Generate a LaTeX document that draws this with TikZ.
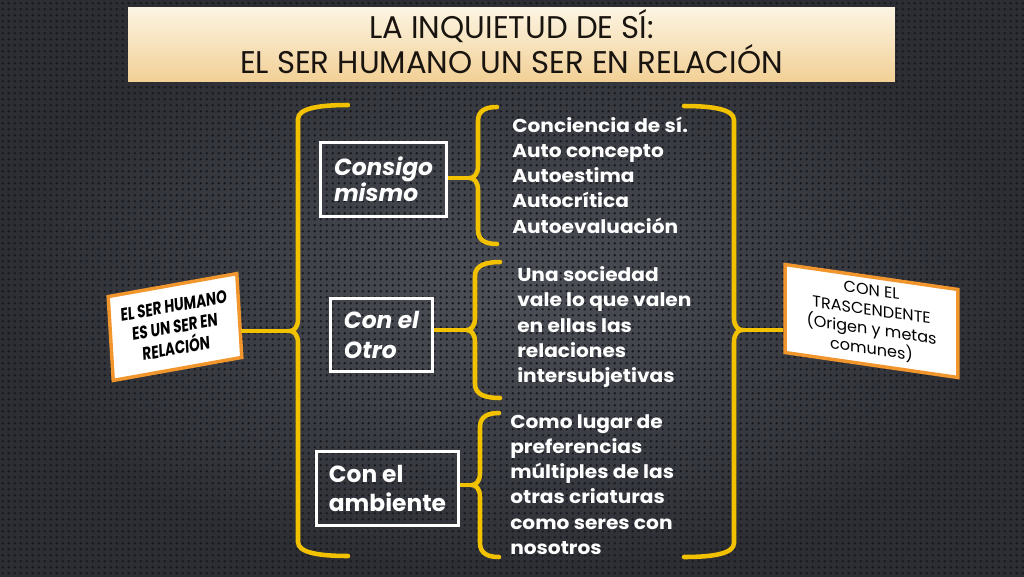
\documentclass[tikz,border=0pt]{standalone}
\usepackage{fontspec}
\setmainfont{Poppins}
\newfontfamily\titlef{Poppins}[FakeStretch=0.98]
\newfontfamily\condf{Poppins}[FakeStretch=0.76]
\newfontfamily\widef{Poppins}[FakeStretch=1.08]
\newfontfamily\boxf{Poppins}[FakeStretch=1.03]
\usetikzlibrary{patterns}
\definecolor{bgin}{RGB}{78,80,88}
\definecolor{bgout}{RGB}{44,46,52}
\definecolor{bgdot}{RGB}{24,26,31}
\definecolor{ttop}{RGB}{252,244,226}
\definecolor{tbot}{RGB}{242,208,150}
\definecolor{ttext}{RGB}{25,20,15}
\definecolor{ygold}{RGB}{242,194,0}
\definecolor{orng}{RGB}{240,150,45}
\pgfdeclarepatternformonly{bgdots}{\pgfpointorigin}{\pgfpoint{4.3pt}{4.3pt}}{\pgfpoint{4.3pt}{4.3pt}}{%
  \pgfpathcircle{\pgfpoint{2.15pt}{2.15pt}}{1.05pt}\pgfusepath{fill}}
\newcommand\ybr[6]{% #1 x of stem, #2 top y, #3 tip y, #4 bottom y, #5 arm end x, #6 tip x
  \draw[ybrace] (#5,#2) .. controls ({#1+0.45*(#5-#1)},#2) and (#1,{#2+3}) .. (#1,{#2+14})
    -- (#1,{#3-12}) .. controls (#1,{#3-3}) and ({#6+0.4*(#1-#6)},#3) .. (#6,#3)
    .. controls ({#6+0.4*(#1-#6)},#3) and (#1,{#3+3}) .. (#1,{#3+12})
    -- (#1,{#4-14}) .. controls (#1,{#4-3}) and ({#1+0.45*(#5-#1)},#4) .. (#5,#4);}
\tikzset{
  ybrace/.style={draw=ygold, line width=3.4pt, line cap=round},
  titlebox/.style={top color=ttop, bottom color=tbot, draw=none,
    minimum width=575pt, minimum height=55pt, inner sep=0pt},
  titletxt/.style={inner sep=0pt, align=center, text=ttext,
    font=\titlef\fontsize{23.5pt}{22pt}\selectfont},
  wbox/.style={draw=white, line width=2.3pt, align=left, inner sep=0pt, text=white},
  listtext/.style={align=left, anchor=west, inner sep=0pt, text=white,
    font=\widef\bfseries\fontsize{14pt}{18.9pt}\selectfont},
  obox/.style={draw=orng, line width=2.6pt, fill=white, align=center, inner sep=0pt, text=black}
}
\begin{document}
\begin{tikzpicture}[x=0.75pt, y=-0.75pt]
\useasboundingbox (0,0) rectangle (1024,576);
% background
\shade[inner color=bgin, outer color=bgout] (0,0) rectangle (1024,576);
\fill[pattern=bgdots, pattern color=bgdot] (0,0) rectangle (1024,576);
% title
\node[titlebox] (title) at (511.5,44.5) {};
\node[titletxt] (titletext) at (511.5,41.5) {LA INQUIETUD DE SÍ:\\EL SER HUMANO UN SER EN RELACIÓN};
% left box
\node[obox, minimum width=98pt, minimum height=63pt, cm={0.984,0.176,-0.06,0.998,(0,0)},
  font=\condf\bfseries\fontsize{13.5pt}{16pt}\selectfont] (lbox) at (175,327)
  {EL SER HUMANO\\ES UN SER EN\\RELACIÓN};
% right box
\node[obox, minimum width=131pt, minimum height=66pt, cm={0.99,-0.143,0,1,(0,0)},
  font=\boxf\fontsize{11.8pt}{14.6pt}\selectfont] (rbox) at (871.5,321)
  {CON EL\\TRASCENDENTE\\(Origen y metas\\comunes)};
% white boxes
\node[wbox, minimum width=94pt, minimum height=55pt, font=\bfseries\itshape\fontsize{17.5pt}{17.5pt}\selectfont] (b1) at (383.5,179.5) {Consigo\\mismo};
\node[wbox, minimum width=77pt, minimum height=55pt, font=\bfseries\itshape\fontsize{17.5pt}{22pt}\selectfont] (b2) at (381.5,335) {Con el\\Otro};
\node[wbox, minimum width=106pt, minimum height=55pt, font=\bfseries\fontsize{17.5pt}{22pt}\selectfont] (b3) at (387.5,488.5) {Con el\\ambiente};
% list texts
\node[listtext] (t1) at (512,175) {Conciencia de sí.\\Auto concepto\\Autoestima\\Autocrítica\\Autoevaluación};
\node[listtext] (t2) at (517,327) {Una sociedad\\vale lo que valen\\en ellas las\\relaciones\\intersubjetivas};
\node[listtext] (t3) at (510,484.5) {Como lugar de\\preferencias\\múltiples de las\\otras criaturas\\como seres con\\nosotros};
% brace tips
\coordinate (cL) at (290,331);
\coordinate (cR) at (742,330);
\coordinate (c1) at (470,178);
\coordinate (c2) at (467,330);
\coordinate (c3) at (472,485);
% braces
\ybr{298}{105}{331}{556}{348}{290}
\ybr{734}{106}{330}{557}{684}{742}
\ybr{478}{107}{178}{244}{497}{470}
\ybr{475}{262}{330}{398}{500}{467}
\ybr{480}{413}{485}{557}{499}{472}
% connectors
\draw[ybrace, line cap=butt] (lbox.east |- cL) -- (cL);
\draw[ybrace, line cap=butt] (cR) -- (rbox.west |- cR);
\draw[ybrace, line cap=butt] (b1.east |- c1) -- (c1);
\draw[ybrace, line cap=butt] (b2.east |- c2) -- (c2);
\draw[ybrace, line cap=butt] (b3.east |- c3) -- (c3);
\end{tikzpicture}
\end{document}
